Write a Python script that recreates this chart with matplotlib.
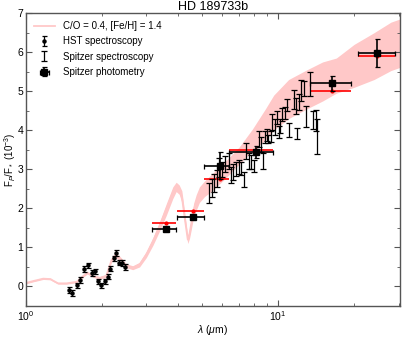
import numpy as np
import matplotlib
matplotlib.use("Agg")
import matplotlib.pyplot as plt
from matplotlib.ticker import MultipleLocator, LogLocator, NullFormatter

plt.rcParams['font.family'] = ['Liberation Sans', 'DejaVu Sans']
plt.rcParams['mathtext.fontset'] = 'custom'
plt.rcParams['mathtext.rm'] = 'Liberation Sans'
plt.rcParams['mathtext.it'] = 'Liberation Sans:italic'

# ---- model spectrum (C/O = 0.4, [Fe/H] = 1.4): wavelength, centre, half-width of noisy band
model_lam = [1.0, 1.07, 1.17, 1.25, 1.28, 1.34, 1.45, 1.59, 1.68, 1.75, 1.85, 1.96, 2.08,
             2.18, 2.25, 2.35, 2.50, 2.65, 2.82, 3.0, 3.19, 3.39, 3.60, 3.82, 3.94, 4.05,
             4.15, 4.25, 4.38, 4.45, 4.52, 4.62, 4.73, 4.87, 5.1, 5.5, 6.2, 7.0, 7.9,
             8.9, 9.6, 11.0, 13.0, 15.0, 17.0, 20.0, 24.0, 28.0, 31.0]
model_mid = [0.09, 0.14, 0.20, 0.19, 0.15, 0.08, 0.08, 0.12, 0.26, 0.35, 0.26, 0.22, 0.27,
             0.66, 0.79, 0.73, 0.53, 0.48, 0.56, 0.82, 1.16, 1.55, 1.97, 2.40, 2.55, 2.48,
             2.30, 1.80, 1.20, 1.35, 1.60, 1.95, 2.15, 2.35, 2.50, 2.68, 3.00, 3.35, 3.75,
             4.15, 4.45, 4.80, 5.05, 5.25, 5.40, 5.65, 5.90, 6.15, 6.25]
model_hw = [0.02, 0.02, 0.02, 0.02, 0.02, 0.02, 0.02, 0.02, 0.03, 0.03, 0.03, 0.03, 0.04,
            0.05, 0.05, 0.05, 0.05, 0.05, 0.06, 0.08, 0.10, 0.12, 0.15, 0.15, 0.12, 0.12,
            0.15, 0.15, 0.10, 0.12, 0.15, 0.18, 0.20, 0.20, 0.20, 0.22, 0.22, 0.22, 0.28,
            0.40, 0.45, 0.50, 0.50, 0.50, 0.45, 0.55, 0.60, 0.62, 0.62]

# ---- HST spectroscopy
hst_lam = [1.48, 1.52, 1.59, 1.64, 1.70, 1.76, 1.82, 1.88, 1.93, 1.99, 2.05, 2.12,
           2.16, 2.23, 2.27, 2.33, 2.40, 2.46]
hst_f = [-0.09, -0.17, 0.03, 0.17, 0.45, 0.54, 0.34, 0.39, 0.13, 0.03, 0.13, 0.25,
         0.46, 0.72, 0.86, 0.61, 0.60, 0.50]
hst_err = [0.07] * 18

# ---- Spitzer spectroscopy
irs_lam = [5.34, 5.47, 5.58, 5.70, 5.83, 5.98, 6.17, 6.36, 6.49, 6.64, 6.79, 6.96, 7.12,
           7.29, 7.45, 7.63, 7.80, 7.99, 8.36, 8.52, 8.67, 8.87, 9.06, 9.14, 9.35, 9.49,
           9.70, 9.88, 10.1, 10.2, 10.4, 10.6, 10.87, 11.0, 11.5, 11.76, 11.9, 12.05,
           12.3, 12.6, 12.9, 13.4, 13.8, 14.1, 14.3]
irs_f = [2.39, 2.53, 2.65, 2.76, 3.05, 3.00, 3.13, 3.21, 2.85, 2.93, 3.00, 3.06, 3.02,
         2.74, 3.47, 3.21, 3.19, 3.08, 3.77, 3.64, 3.21, 3.83, 3.88, 3.77, 3.84, 4.21,
         4.09, 4.32, 3.95, 4.11, 4.41, 4.44, 4.64, 4.00, 4.79, 4.62, 3.92, 4.73,
         5.03, 5.07, 4.35, 5.18, 4.26, 4.25, 3.83]
irs_err = [0.25, 0.23, 0.22, 0.22, 0.25, 0.20, 0.20, 0.20, 0.20, 0.20, 0.18, 0.18, 0.16,
           0.18, 0.20, 0.20, 0.17, 0.15, 0.20, 0.20, 0.20, 0.15, 0.15, 0.10, 0.15, 0.20,
           0.20, 0.17, 0.15, 0.17, 0.17, 0.15, 0.15, 0.18, 0.25, 0.20, 0.15, 0.20,
           0.27, 0.20, 0.27, 0.30, 0.23, 0.27, 0.45]

# ---- Spitzer photometry
phot_lam = [3.59, 4.58, 5.88, 8.17, 16.3, 24.6]
phot_lo = [3.17, 3.97, 5.10, 6.40, 13.4, 20.8]
phot_hi = [3.94, 5.10, 6.41, 9.50, 19.4, 29.1]
phot_f = [1.47, 1.79, 3.09, 3.44, 5.20, 5.98]
phot_err = [0.04, 0.04, 0.35, 0.15, 0.20, 0.37]
model_band_f = [1.62, 1.94, 2.74, 3.50, 5.01, 5.90]

pink = '#ffc8c8'

fig = plt.figure(figsize=(4.03, 3.37), dpi=100)
ax = fig.add_axes([0.0645, 0.092, 0.928, 0.869])

lam = np.array(model_lam)
mid = np.array(model_mid)
hw = np.array(model_hw)
ax.fill_between(lam, mid - hw, mid + hw, color=pink, lw=0, zorder=1)
mline, = ax.plot(lam, mid, color=pink, lw=1.3, zorder=1,
                 label='C/O = 0.4, [Fe/H] = 1.4')

xl = np.array(phot_lam)
xerr = [xl - np.array(phot_lo), np.array(phot_hi) - xl]
ax.errorbar(phot_lam, model_band_f, xerr=xerr, fmt='o', color='red', ms=2,
            elinewidth=1.2, capsize=0, zorder=3)

h1 = ax.errorbar(hst_lam, hst_f, yerr=hst_err, fmt='o', color='black', ms=2.2,
                 elinewidth=0.9, capsize=1.8, capthick=0.9, zorder=4,
                 label='HST spectroscopy')
h2 = ax.errorbar(irs_lam, irs_f, yerr=irs_err, fmt='none', ecolor='black',
                 elinewidth=0.9, capsize=2.0, capthick=0.9, zorder=4,
                 label='Spitzer spectroscopy')
h3 = ax.errorbar(phot_lam, phot_f, xerr=xerr, yerr=phot_err, fmt='s', color='black',
                 ms=4.5, elinewidth=1.2, capsize=1.8, capthick=0.9, zorder=5,
                 label='Spitzer photometry')

ax.set_xscale('log')
ax.set_xlim(1.0, 30.4)
ax.set_ylim(-0.5, 7.0)
ax.yaxis.set_major_locator(MultipleLocator(1))
ax.yaxis.set_minor_locator(MultipleLocator(0.5))
ax.xaxis.set_minor_locator(LogLocator(base=10, subs=np.arange(2, 10)))
ax.xaxis.set_minor_formatter(NullFormatter())

grey = '#555555'
for s in ax.spines.values():
    s.set_color(grey)
    s.set_linewidth(1.0)
ax.tick_params(which='both', direction='in', top=True, right=True, color=grey,
               labelsize=7.5)
ax.tick_params(axis='x', pad=2)
ax.tick_params(axis='y', pad=2)
ax.tick_params(which='major', length=4, width=0.8)
ax.tick_params(which='minor', length=2, width=0.6)

ax.set_title('HD 189733b', fontsize=9, pad=1)
ax.set_xlabel(r'$\lambda$ ($\mu$m)', fontsize=7.5, labelpad=0)
ax.set_ylabel(r'F$_{P}$/F$_*$ (10$^{-3}$)', fontsize=7)
ax.yaxis.set_label_coords(-0.021, 0.5)

ax.legend(handles=[mline, h1, h2, h3], loc='upper left', frameon=False,
          fontsize=7, handlelength=2.2, labelspacing=0.55, borderaxespad=0.4,
          handletextpad=0.8)

fig.savefig('out.png', dpi=100)
